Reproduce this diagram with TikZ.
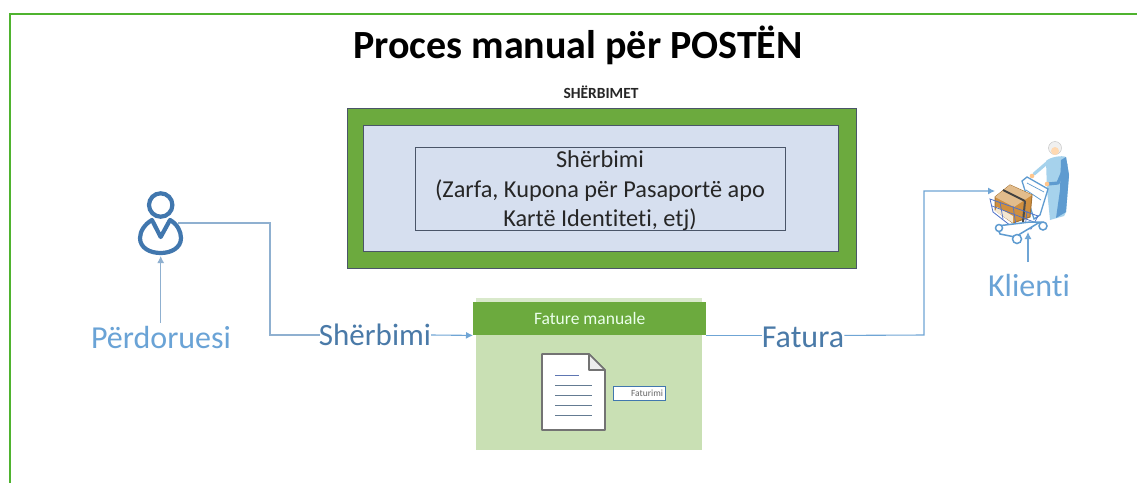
\documentclass[tikz,border=0pt]{standalone}
\usepackage{fontspec}
\setmainfont[RawFeature={-liga}]{Carlito}
\usetikzlibrary{arrows.meta}
\definecolor{frameG}{HTML}{4FB32F}
\definecolor{boxG}{HTML}{6CAA3E}
\definecolor{paleG}{HTML}{C9E0B4}
\definecolor{paleB}{HTML}{D6DFEF}
\definecolor{edge}{HTML}{4A5568}
\definecolor{iconB}{HTML}{4177AE}
\definecolor{labB}{HTML}{6AA3D6}
\definecolor{darkB}{HTML}{4A7AA8}
\definecolor{wireB}{HTML}{8FB0D0}
\definecolor{wireC}{HTML}{6FA5D5}
\definecolor{bodyB}{HTML}{A6D2EC}
\definecolor{bodyD}{HTML}{5E9BD0}
\definecolor{cartB}{HTML}{4F72C8}
\definecolor{boxO}{HTML}{CF8F3F}
\definecolor{boxL}{HTML}{EFD9B4}
\tikzset{
  px/.style={x=1pt,y=-1pt},
  box/.style={draw=edge,line width=0.9pt,inner sep=0pt,minimum width=#1},
  lab/.style={font=\fontsize{32}{35}\selectfont,inner sep=1pt},
  conn/.style={draw=wireB,line width=1.1pt},
  connB/.style={draw=wireC,line width=1.1pt},
  tip/.style={-{Latex[length=7pt,width=7pt]}},
  docline/.style={draw=#1,line width=1pt},
  whl/.style={draw=bodyD,line width=1.5pt,fill=white}
}
\begin{document}
\begin{tikzpicture}[px]
\useasboundingbox (0,0) rectangle (1137,483);
\fill[white] (0,0) rectangle (1137,483);
\fill[frameG] (9,13) rectangle (10.5,483);
\fill[frameG] (9,13) rectangle (1137,14.5);
\node[font=\bfseries\fontsize{40}{44}\selectfont,text=black] (title) at (578,45) {Proces manual për POSTËN};
\node[font=\bfseries\fontsize{15.5}{17}\selectfont,text=black!85] (head) at (601,92) {SHËRBIMET};
% boxes
\node[box=509pt,minimum height=160pt,fill=boxG,anchor=north west] (outer) at (346.5,107.5) {};
\node[box=475pt,minimum height=126pt,fill=paleB,anchor=north west] (inner) at (363,125) {};
\node[box=370pt,minimum height=83pt,fill=paleB,anchor=north west] (svc) at (415,146.5) {};
\node[font=\fontsize{24.3}{29.5}\selectfont,align=center,text=black!85,inner sep=0pt] (svct) at (600,191)
 {Shërbimi\\(Zarfa, Kupona për Pasaportë apo\\Kartë Identiteti, etj)};
% invoice panel
\node[fill=paleG!70!white,minimum width=226pt,minimum height=6pt,inner sep=0pt,anchor=north west] (paneltop) at (476,298) {};
\node[fill=paleG,minimum width=226pt,minimum height=116pt,inner sep=0pt,anchor=north west] (panel) at (476,334) {};
\node[fill=boxG,minimum width=233pt,minimum height=33pt,inner sep=0pt,anchor=north west,text=white!92!green,font=\fontsize{17.5}{20}\selectfont] (phead) at (473,302) {Fature manuale};
% document icon
\draw[draw=black!55,line width=1.6pt,fill=white,line join=round] (542,354) -- (589,354) -- (605,370) -- (605,430) -- (542,430) -- cycle;
\draw[draw=black!55,line width=1.6pt,fill=white!93!black,line join=round] (589,354) -- (589,370) -- (605,370) -- cycle;
\draw[docline=cartB!70!gray] (555,375) -- (579,375);
\foreach \yy in {385,395,405,415} \draw[docline=black!30!wireB] (555,\yy) -- (592,\yy);
\node[draw=iconB,line width=1.2pt,fill=white,minimum width=52pt,minimum height=14pt,inner sep=1pt,anchor=north west,font=\fontsize{9.5}{10}\selectfont,align=right,text=black!60] (fat) at (613,386) {\hspace*{15pt}Faturimi};
% user icon
\draw[iconB,line width=4.2pt] (160.7,205) circle (11.7);
\draw[iconB,line width=4.2pt,line join=round] (152,220) -- (160.7,237) -- (170,220)
  .. controls (177,224) and (181,231) .. (181,238)
  .. controls (181,248) and (171,253) .. (160.7,253)
  .. controls (150,253) and (140,248) .. (140,238)
  .. controls (140,231) and (145,224) .. (152,220) -- cycle;
\coordinate (userE) at (178,223);
\coordinate (userS) at (160.7,256);
% labels
\node[lab,text=labB] (plabel) at (161,337) {Përdoruesi};
\node[lab,text=labB] (klabel) at (1029,285) {Klienti};
% shopper icon
\fill[bodyB] (1046,161) .. controls (1050,157) and (1062,155) .. (1066,157) -- (1069,175) -- (1066,212) -- (1064,216) -- (1050,220) -- (1047,190) -- cycle;
\fill[bodyD] (1061,160) -- (1066,157) -- (1069,175) -- (1066,212) -- (1056,218) -- (1060,190) -- cycle;
\draw[bodyB,line width=3.2pt,line cap=round] (1048,162) -- (1034,174);
\draw[bodyD,line width=3.2pt,line cap=round,line join=round] (1066,164) -- (1058,183) -- (1048,184);
\fill[orange!45!white] (1032,176) circle (2.3) (1047,184) circle (2.3);
\fill[white!88!gray,draw=black!25] (1055,148) circle (6.5);
\fill[orange!30!white] (1055,151) circle (4);
\draw[bodyD,line width=1.3pt,fill=white] (1022,181) -- (1027,177) -- (1048,189) -- (1040,215) -- (1034,219) -- cycle;
\draw[bodyD,line width=.7pt] (1027,183) -- (1044,192) (1026,190) -- (1041,200);
\draw[boxO!80!black,line width=1pt,fill=boxO] (995,197) -- (1010,185) -- (1032,195) -- (1030,217) -- (1013,223) -- (995,210) -- cycle;
\fill[boxL!60!white] (997,207) -- (1013,216) -- (1013,223) -- (995,211) -- cycle;
\fill[boxO!60!white] (995,197) -- (1010,185) -- (1032,195) -- (1014,207) -- cycle;
\draw[black!75,line width=2pt] (1003,190) -- (1025,201);
\draw[black!70,line width=2pt] (1025,201) -- (1023,222);
\draw[cartB,line width=0.8pt] (990,199) -- (1038,216) -- (1031,229) -- (1011,226) -- (993,212) -- cycle;
\draw[cartB,line width=0.7pt] (992,206) -- (1034,222) (1000,202) -- (1003,219) (1013,206) -- (1016,226) (1027,211) -- (1025,228);
\draw[bodyD,line width=1.5pt,fill=white] (997,226) -- (1030,222) -- (1040,222) -- (1015,237) -- (1000,234) -- cycle;
\draw[whl] (1017,239) circle (4.5);
\draw[whl] (999,228) circle (3.5);
\draw[whl] (1043,226) circle (4);
\coordinate (shopW) at (995,191);
\coordinate (shopS) at (1028,232);
% connectors
\draw[conn,tip] (plabel.north -| userS) ++(0,-2) -- (userS);
\draw[conn] (userE) -- (270,223) -- (270,335) -- (320,335);
\draw[connB,tip] (shopS) ++(0,30) -- (shopS);
\node[lab,font=\fontsize{31}{35}\selectfont,text=darkB,inner sep=0pt] (shlabel) at (375,335) {Shërbimi};
\draw[draw=wireC,line width=1.1pt,tip] (shlabel.east) -- (phead.south west);
\node[lab,text=darkB,inner sep=0pt] (falabel) at (803,337) {Fatura};
\draw[connB] (phead.south east) -- (falabel.west |- phead.south east);
\draw[connB,tip] (falabel.east |- phead.south east) -- (924,335) -- (924,191) -- (shopW);
\end{tikzpicture}
\end{document}
